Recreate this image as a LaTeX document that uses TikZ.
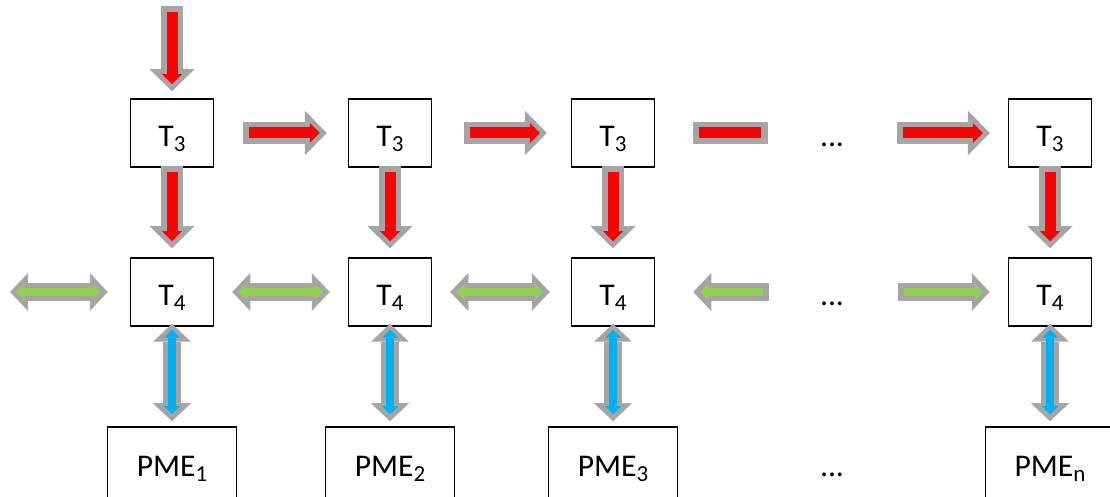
\documentclass[tikz,border=0pt]{standalone}
\usepackage{fontspec}
\setmainfont{Carlito}
\usetikzlibrary{arrows.meta}

\definecolor{rimgray}{HTML}{A5A5A5}
\definecolor{flowred}{HTML}{FF0000}
\definecolor{flowgreen}{HTML}{92D050}
\definecolor{flowblue}{HTML}{00B0F0}

\newcommand{\lowidx}[1]{\raisebox{-2.3pt}{\fontsize{11.5}{12}\selectfont#1}}

\tikzset{
  cell/.style={draw,line width=0.75pt,minimum width=41.5pt,minimum height=34pt,inner sep=0pt,
    font=\fontsize{15.8}{19}\selectfont,text height=16pt,text depth=2pt},
  pme/.style={cell,minimum width=64.5pt,minimum height=36pt},
  gap/.style={cell,draw=none},
  big out/.style={rimgray,line width=11pt,>={Triangle[width=22.5pt,length=11pt,line width=0pt]}},
  big in/.style={line width=5.5pt,>={Triangle[width=10pt,length=5pt,line width=0pt]}},
  small out/.style={rimgray,line width=9pt,>={Triangle[width=19pt,length=9pt,line width=0pt]}},
  small in/.style={line width=4pt,>={Triangle[width=8pt,length=4pt,line width=0pt]}},
}
% fat arrow: #1 size, #2 colour, #3 ends, #4 from, #5 to, #6 start gap, #7 end gap
\newcommand{\fatlink}[7]{%
  \draw[#1 out,#3,shorten <=#6,shorten >=#7] (#4) -- (#5);
  \draw[#1 in,#2,#3,shorten <={#6+3pt},shorten >={#7+3.5pt}] (#4) -- (#5);}

\begin{document}
\begin{tikzpicture}[x=0.5pt,y=-0.5pt]
\clip (0,0) rectangle (1110,497);
% columns
\foreach \c/\x/\k in {a/172/1,b/390/2,c/613/3,n/1050/n}{
  \node[cell] (t3\c) at (\x,133) {T\lowidx{3}};
  \node[cell] (t4\c) at (\x,292) {T\lowidx{4}};
  \node[pme] (pme\c) at (\x,463) {PME\lowidx{\k}};
}
\node[gap] (dots1) at (832,133) {...};
\node[gap] (dots2) at (832,292) {...};
\node[gap] (dots3) at (832,463) {...};
% vertical links
\coordinate (in) at (172,6);
\fatlink{big}{flowred}{->}{in}{t3a}{0pt}{3.5pt}
\foreach \c in {a,b,c,n}{
  \fatlink{big}{flowred}{->}{t3\c}{t4\c}{-1pt}{4.5pt}
  \fatlink{small}{flowblue}{<->}{t4\c}{pme\c}{-1.5pt}{2.5pt}
}
% red row
\fatlink{big}{flowred}{->}{t3a}{t3b}{14.5pt}{10.5pt}
\fatlink{big}{flowred}{->}{t3b}{t3c}{16pt}{12pt}
\coordinate (r1) at (768,133);
\fatlink{big}{flowred}{-}{t3c}{r1}{19pt}{0pt}
\coordinate (r2) at (897,133);
\fatlink{big}{flowred}{->}{r2}{t3n}{0pt}{9pt}
% green row
\coordinate (g0) at (10,292);
\fatlink{small}{flowgreen}{<->}{g0}{t4a}{0pt}{11pt}
\fatlink{small}{flowgreen}{<->}{t4a}{t4b}{9pt}{9pt}
\fatlink{small}{flowgreen}{<->}{t4b}{t4c}{9pt}{10.5pt}
\coordinate (g1) at (769,292);
\fatlink{small}{flowgreen}{->}{g1}{t4c}{0pt}{19pt}
\coordinate (g2) at (898,292);
\fatlink{small}{flowgreen}{->}{g2}{t4n}{0pt}{9pt}
\end{tikzpicture}
\end{document}
